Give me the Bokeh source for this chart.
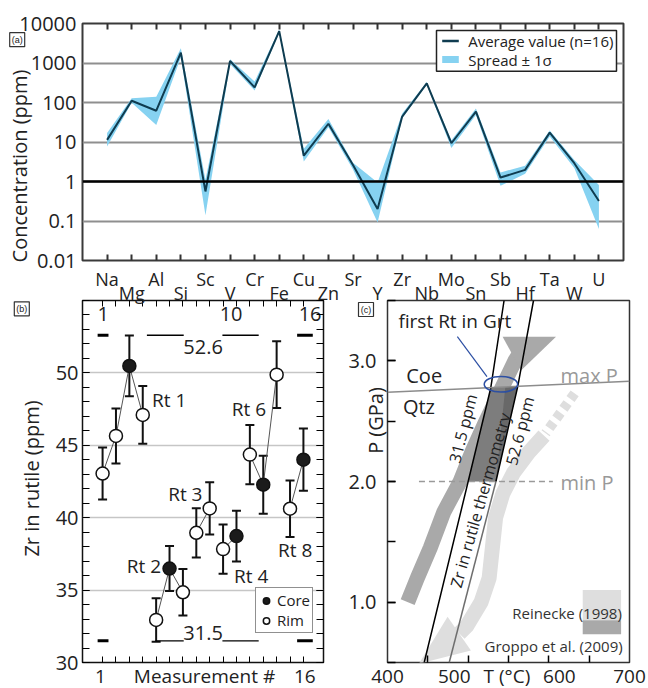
from bokeh.plotting import figure
from bokeh.models import (ColumnDataSource, FixedTicker, LinearAxis, Span, Range1d,
                          Legend, LegendItem, Whisker, TeeHead, NumeralTickFormatter,
                          GridBox, Spacer)
from bokeh.core.properties import value
from bokeh.embed import file_html
from bokeh.resources import INLINE

FONT = "Open Sans"
INK = "#222222"

# ---------------------------------------------------------------- (a) data
elements = ["Na", "Mg", "Al", "Si", "Sc", "V", "Cr", "Fe", "Cu", "Zn", "Sr",
            "Y", "Zr", "Nb", "Mo", "Sn", "Sb", "Hf", "Ta", "W", "U"]
avg_ppm = [11.3, 111, 62, 1820, 0.56, 1120, 242, 6400, 4.5, 29, 2.6,
           0.2, 44, 305, 9.3, 59, 1.26, 1.97, 17.3, 2.9, 0.32]
upper_ppm = [17, 128, 140, 2350, 1.1, 1250, 340, 7000, 6.7, 38, 3.0,
             0.95, 53, 330, 11, 71, 1.7, 2.5, 19.5, 3.5, 0.82]
lower_ppm = [7.7, 98, 27, 1390, 0.14, 950, 200, 5900, 3.2, 23.5, 2.0,
             0.092, 40, 280, 7.0, 48, 0.78, 1.56, 13.7, 2.2, 0.063]
conc_ticks = [0.01, 0.1, 1, 10, 100, 1000, 10000]
conc_tick_labels = ["0.01", "0.1", "1", "10", "100", "1000", "10000"]

# ---------------------------------------------------------------- (b) data
measurement = list(range(1, 17))
zr_ppm = [43.05, 45.65, 50.48, 47.1, 32.94, 36.49, 34.85, 38.96,
          40.64, 37.83, 38.73, 44.36, 42.28, 49.88, 40.62, 44.01]
zr_err = [1.8, 1.9, 2.1, 2.0, 1.5, 1.55, 1.6, 1.7,
          1.8, 1.7, 1.75, 2.05, 2.0, 2.3, 1.95, 2.15]
spot = ["Rim", "Rim", "Core", "Rim", "Rim", "Core", "Rim", "Rim",
        "Rim", "Rim", "Core", "Rim", "Core", "Rim", "Rim", "Core"]
grains = [[1, 2, 3, 4], [5, 6, 7], [8, 9], [10, 11], [12, 13, 14], [15, 16]]
grain_names = ["Rt 1", "Rt 2", "Rt 3", "Rt 4", "Rt 6", "Rt 8"]
zr_max, zr_min = 52.6, 31.5

# ---------------------------------------------------------------- (c) data
iso_lo_T = [445.5, 500.0, 528.0, 544.5]          # 31.5 ppm isopleth
iso_lo_P = [0.5, 2.0, 2.775, 3.5]
iso_hi_T = [476.5, 534.4, 561.5, 581.0]          # 52.6 ppm isopleth
iso_hi_P = [0.5, 2.0, 2.788, 3.5]
coe_qtz_T = [400, 700]
coe_qtz_P = [2.74, 2.83]
min_P = 2.0
groppo_T = [425, 437, 453, 470, 490, 505, 522, 540, 558, 572]
groppo_P = [1.0, 1.2, 1.45, 1.75, 2.0, 2.25, 2.5, 2.75, 3.0, 3.15]
groppo_head_T = [542.7, 608.9, 565.5]
groppo_head_P = [3.2, 3.2, 2.92]
reinecke_T = [594, 575, 556, 543, 534, 530, 526, 516, 498, 489]
reinecke_P = [2.38, 2.24, 2.07, 1.9, 1.7, 1.45, 1.2, 1.0, 0.8, 0.74]
reinecke_dash_T = [632, 596]
reinecke_dash_P = [2.73, 2.40]
reinecke_head_T = [474.5, 503.4, 439.0]
reinecke_head_P = [0.88, 0.60, 0.49]
first_rt_T, first_rt_P = 540.6, 2.806

LINE = "#0f3c50"
SPREAD = "#86d2f1"
LIGHT = "#dedede"
MEDIUM = "#a9a9a9"

# frame geometry of the three panels (page pixels)
A_L, A_R, A_T, A_B = 82, 623, 23, 260
B_L, B_R = 82, 323
C_L, C_R = 387, 629
ROW_T, ROW_B = 300, 662
A_W, B_W, C_W = 643, 345, 303


def hide_labels(axis, ticks):
    axis.major_label_overrides = {t: "" for t in ticks}
    axis.axis_line_color = None


# ================================================================ panel (a)
pa = figure(width=A_W, height=290, y_axis_type="log", x_range=(0, 22),
            y_range=(0.01, 10000), output_backend="svg", toolbar_location=None,
            min_border_left=A_L, min_border_right=A_W - A_R, min_border_top=A_T,
            min_border_bottom=290 - A_B)
pa.outline_line_color = "#3a3a3a"
pa.outline_line_width = 2
pos = list(range(1, len(elements) + 1))

xa = pa.xaxis[0]
xa.ticker = FixedTicker(ticks=pos)
hide_labels(xa, pos)
xa.major_tick_in, xa.major_tick_out = 6, 0
xa.major_tick_line_width = 2
xa.major_tick_line_color = "#333333"
top_a = LinearAxis(ticker=FixedTicker(ticks=pos), major_tick_in=6, major_tick_out=0,
                   major_tick_line_width=2, major_tick_line_color="#333333")
hide_labels(top_a, pos)
pa.add_layout(top_a, "above")

ya = pa.yaxis[0]
ya.ticker = FixedTicker(ticks=conc_ticks)
ya.major_label_overrides = dict(zip(conc_ticks, conc_tick_labels))
ya.major_tick_in = ya.major_tick_out = 0
ya.minor_tick_in = ya.minor_tick_out = 0
ya.axis_line_color = None
ya.major_label_standoff = 6
ya.major_label_text_font = FONT
ya.major_label_text_font_size = "20px"
ya.major_label_text_color = INK
pa.xgrid.visible = False
pa.ygrid.ticker = FixedTicker(ticks=conc_ticks)
pa.ygrid.grid_line_color = "#8f8f8f"
pa.ygrid.grid_line_width = 2
pa.add_layout(Span(location=1, dimension="width", line_color="black", line_width=2.5))

band = pa.varea(x=pos, y1=lower_ppm, y2=upper_ppm, fill_color=SPREAD)
mean_line = pa.line(pos, avg_ppm, line_color=LINE, line_width=2)

# ================================================================ panel (b)
pb = figure(width=B_W, height=398, x_range=(-0.5, 17.5), y_range=(30, 55),
            output_backend="svg", toolbar_location=None,
            min_border_left=B_L, min_border_right=B_W - B_R,
            min_border_top=ROW_T - 290, min_border_bottom=688 - ROW_B)
pb.outline_line_color = "#111111"
pb.outline_line_width = 1.5
zr_major = [30, 35, 40, 45, 50]
zr_minor = list(range(30, 56))

xb = pb.xaxis[0]
xb.ticker = FixedTicker(ticks=measurement)
hide_labels(xb, measurement)
xb.major_tick_in, xb.major_tick_out = 6, 0
top_b = LinearAxis(ticker=FixedTicker(ticks=measurement), major_tick_in=6,
                   major_tick_out=0)
hide_labels(top_b, measurement)
pb.add_layout(top_b, "above")

yb = pb.yaxis[0]
yb.ticker = FixedTicker(ticks=zr_major, minor_ticks=zr_minor)
yb.major_tick_in, yb.major_tick_out = 7, 0
yb.minor_tick_in, yb.minor_tick_out = 7, 0
yb.major_tick_line_width = yb.minor_tick_line_width = 1.2
yb.axis_line_color = None
yb.major_label_standoff = 4
yb.major_label_text_font = FONT
yb.major_label_text_font_size = "20px"
yb.major_label_text_color = INK
right_b = LinearAxis(ticker=FixedTicker(ticks=zr_major, minor_ticks=zr_minor),
                     major_tick_in=7, major_tick_out=0, minor_tick_in=7,
                     minor_tick_out=0, major_tick_line_width=1.2,
                     minor_tick_line_width=1.2)
hide_labels(right_b, zr_major)
pb.add_layout(right_b, "right")
pb.xgrid.visible = False
pb.ygrid.ticker = FixedTicker(ticks=zr_major[1:])
pb.ygrid.grid_line_color = "#c6c6c6"
pb.ygrid.grid_line_width = 1.5

# bounds of the Zr range: short heavy ends and lighter middle strokes
for level, inner_start in [(zr_max, 4.31), (zr_min, 4.95)]:
    pb.segment(x0=[0.63, 15.53], y0=[level] * 2, x1=[1.44, 16.7], y1=[level] * 2,
               line_color="black", line_width=3)
    pb.segment(x0=[inner_start, 9.95], y0=[level] * 2, x1=[7.06, 12.66],
               y1=[level] * 2, line_color="black", line_width=1.3)
pb.text(x=[8.51, 8.51], y=[zr_max - 0.84, zr_min + 0.57],
        text=[f"{zr_max:.1f}", f"{zr_min:.1f}"], text_font=value(FONT),
        text_font_size="20px", text_align="center", text_baseline="middle",
        text_color=INK)

pb.multi_line(xs=[g for g in grains],
              ys=[[zr_ppm[m - 1] for m in g] for g in grains],
              line_color="#555555", line_width=1)
err_src = ColumnDataSource(dict(base=measurement,
                                lower=[v - e for v, e in zip(zr_ppm, zr_err)],
                                upper=[v + e for v, e in zip(zr_ppm, zr_err)]))
pb.add_layout(Whisker(source=err_src, base="base", lower="lower", upper="upper",
                      line_color="#111111", line_width=2,
                      lower_head=TeeHead(size=9, line_width=2, line_color="#111111"),
                      upper_head=TeeHead(size=9, line_width=2, line_color="#111111")))
core_src = ColumnDataSource(dict(x=[m for m, s in zip(measurement, spot) if s == "Core"],
                                 y=[v for v, s in zip(zr_ppm, spot) if s == "Core"]))
rim_src = ColumnDataSource(dict(x=[m for m, s in zip(measurement, spot) if s == "Rim"],
                                y=[v for v, s in zip(zr_ppm, spot) if s == "Rim"]))
core_r = pb.scatter("x", "y", source=core_src, size=13, fill_color="#1b1b1b",
                    line_color="#111111", line_width=1.5)
rim_r = pb.scatter("x", "y", source=rim_src, size=13, fill_color="white",
                   line_color="#111111", line_width=1.5)

grain_x = [5.97, 4.09, 7.18, 12.1, 11.93, 15.38]
grain_y = [48.12, 36.63, 41.66, 35.96, 47.48, 37.8]
pb.text(x=grain_x, y=grain_y, text=grain_names, text_font=value(FONT),
        text_font_size="19px", text_align="center", text_baseline="middle",
        text_color=INK)
pb.text(x=[1.05, 10.6, 16.5], y=[54.1] * 3, text=["1", "10", "16"],
        text_font=value(FONT), text_font_size="20px", text_align="center",
        text_baseline="middle", text_color=INK)

leg_b = Legend(items=[LegendItem(label="Core", renderers=[core_r]),
                      LegendItem(label="Rim", renderers=[rim_r])],
               location=(173, 29), margin=0, padding=2, spacing=0,
               glyph_width=16, glyph_height=17, label_height=17, label_standoff=3,
               label_text_font=FONT, label_text_font_size="15px",
               label_text_color=INK, border_line_color="#222222",
               border_line_width=1.5, background_fill_color="white",
               background_fill_alpha=1)
pb.add_layout(leg_b)

# ================================================================ panel (c)
pc = figure(width=C_W, height=398, x_range=(400, 700), y_range=(0.5, 3.5),
            output_backend="svg", toolbar_location=None,
            min_border_left=C_L - B_W, min_border_right=648 - C_R,
            min_border_top=ROW_T - 290, min_border_bottom=688 - ROW_B)
pc.outline_line_color = "#333333"
pc.outline_line_width = 1.5
pc.xgrid.visible = False
pc.ygrid.visible = False
t_ticks = [450, 500, 550, 600, 650]
xc = pc.xaxis[0]
xc.ticker = FixedTicker(ticks=t_ticks)
hide_labels(xc, t_ticks)
xc.major_tick_in, xc.major_tick_out = 7, 0
xc.major_tick_line_width = 1.5
yc = pc.yaxis[0]
yc.ticker = FixedTicker(ticks=[1, 2, 3], minor_ticks=[0.5, 1, 1.5, 2, 2.5, 3, 3.5])
yc.formatter = NumeralTickFormatter(format="0.0")
yc.major_tick_in, yc.major_tick_out = 8, 0
yc.minor_tick_in, yc.minor_tick_out = 8, 0
yc.major_tick_line_width = yc.minor_tick_line_width = 1.5
yc.axis_line_color = None
yc.major_label_standoff = 11
yc.major_label_text_font = FONT
yc.major_label_text_font_size = "20px"
yc.major_label_text_color = INK

# P-T paths
pc.line(reinecke_dash_T, reinecke_dash_P, line_color=LIGHT, line_width=10,
        line_dash="7 5")
pc.line(reinecke_T, reinecke_P, line_color=LIGHT, line_width=15,
        line_join="round")
pc.patch(reinecke_head_T, reinecke_head_P, fill_color=LIGHT, line_color=None)
pc.line(groppo_T, groppo_P, line_color=MEDIUM, line_width=15, line_join="round")
pc.patch(groppo_head_T, groppo_head_P, fill_color=MEDIUM, line_color=None)

# Zr-in-rutile window between min P and the coesite-in reaction
win_T = [iso_lo_T[1], iso_lo_T[2], iso_hi_T[2], iso_hi_T[1]]
win_P = [iso_lo_P[1], iso_lo_P[2], iso_hi_P[2], iso_hi_P[1]]
pc.patch(win_T, win_P, fill_color="#7d7d7d", line_color=None)
pc.patch([546.0, iso_hi_T[2], iso_hi_T[1]], [2.78, iso_hi_P[2], iso_hi_P[1]],
         fill_color="#686868", line_color=None)

pc.line(iso_lo_T, iso_lo_P, line_color="black", line_width=1.5)
pc.line(iso_hi_T[:2], iso_hi_P[:2], line_color="#6e6e6e", line_width=1.5)
pc.line(iso_hi_T[1:], iso_hi_P[1:], line_color="black", line_width=1.5)
pc.line(coe_qtz_T, coe_qtz_P, line_color="#8c8c8c", line_width=1.5)
pc.line([439, 605], [min_P, min_P], line_color="#9a9a9a", line_width=1.5,
        line_dash="6 4")

pc.ellipse(x=[first_rt_T], y=[first_rt_P], width=41.4, height=0.13,
           fill_color=None, line_color="#2c4fa3", line_width=1.5)
pc.line([486.6, 523.3], [3.2, 2.87], line_color="#2c4fa3", line_width=1.2)

pc.text(x=[483.5], y=[3.33], text=["first Rt in Grt"], text_font=value(FONT),
        text_font_size="19px", text_align="center", text_baseline="middle",
        text_color=INK)
pc.text(x=[445.5, 439], y=[2.875, 2.62], text=["Coe", "Qtz"], text_font=value(FONT),
        text_font_size="20px", text_align="center", text_baseline="middle",
        text_color=INK)
pc.text(x=[650, 647.4], y=[2.88, 1.99], text=["max P", "min P"],
        text_font=value(FONT), text_font_size="20px", text_align="center",
        text_baseline="middle", text_color="#999999")
pc.text(x=[493.5, 564], y=[2.44, 2.42], text=["31.5 ppm", "52.6 ppm"],
        angle=75.5, angle_units="deg", text_font=value(FONT), text_font_size="16px",
        text_align="center", text_baseline="middle", text_color=INK)
pc.text(x=[515], y=[1.845], text=["Zr in rutile thermometry"], angle=74,
        angle_units="deg", text_font=value(FONT), text_font_size="16px",
        text_align="center", text_baseline="middle", text_color=INK)

# key
pc.quad(left=[642, 642], right=[689.6, 689.6], bottom=[0.85, 0.735], top=[1.10, 0.85],
        fill_color=[LIGHT, MEDIUM], line_color=None)
pc.text(x=[690.5, 691.5], y=[0.907, 0.64], text=["Reinecke (1998)", "Groppo et al. (2009)"],
        text_font=value(FONT), text_font_size="15px", text_align="right",
        text_baseline="middle", text_color="#333333")

# ================================================================ margin texts
# a transparent sheet over the whole page, in page pixels (y down), carries
# the texts that sit outside the three plot frames and the key of panel (a)
sheet = figure(width=648, height=688, x_range=Range1d(0, 648), y_range=Range1d(688, 0),
               min_border=0, x_axis_location=None, y_axis_location=None,
               toolbar_location=None, output_backend="svg")
sheet.grid.visible = False
sheet.outline_line_color = None
sheet.background_fill_alpha = 0
sheet.border_fill_alpha = 0


def sheet_text(x, y, txt, size="20px", angle=0, align="center", baseline="middle",
               font=FONT, color=INK):
    sheet.text(x=[x], y=[y], text=[txt], angle=angle, angle_units="deg",
               text_font=value(font), text_font_size=size, text_align=align,
               text_baseline=baseline, text_color=color)


def panel_tag(x, y, txt):
    sheet.rect(x=[x], y=[y], width=15, height=14, fill_color="white",
               line_color="#333333", line_width=1.2)
    sheet_text(x, y + 0.5, txt, size="9px", font="Liberation Sans")


# key of panel (a)
sheet.rect(x=[526], y=[50.4], width=180, height=40.7, fill_color="white",
           line_color="#222222", line_width=1.5)
sheet.line([441.7, 458.3], [40.5, 40.5], line_color=LINE, line_width=2.5)
sheet.quad(left=[441.7], right=[458.3], top=[55.5], bottom=[62.5],
           fill_color=SPREAD, line_color=None)
sheet_text(467.7, 40.5, "Average value (n=16)", size="15px", align="left")
sheet_text(467.7, 59, "Spread ± 1σ", size="15px", align="left")

# element names, staggered in two rows under panel (a)
a_scale = (A_R - A_L) / 22
for i, el in enumerate(elements):
    sheet_text(A_L + pos[i] * a_scale, 278.5 if i % 2 == 0 else 292.5, el,
               size="18px", baseline="alphabetic")
sheet_text(18.8, 165.5, "Concentration (ppm)", angle=90)
panel_tag(16.7, 39.2, "(a)")

sheet_text(31, 478, "Zr in rutile (ppm)", angle=90)
panel_tag(21.3, 308.3, "(b)")
for xpx, txt in [(100, "1"), (204, "Measurement #"), (304.3, "16")]:
    sheet_text(xpx, 675.5, txt, size="19px")

c_scale = (C_R - C_L) / 300
for tc, txt in [(400, "400"), (482.7, "500"), (548, "T (°C)"), (613, "600"), (700, "700")]:
    sheet_text(C_L + (tc - 400) * c_scale, 675.5, txt, size="19px")
sheet_text(375, 420, "P (GPa)", angle=90)
panel_tag(365.5, 309, "(c)")

# grid: empty outer tracks keep the sheet's edges apart from the panels' edges
p = GridBox(children=[(Spacer(width=0, height=0), 0, 0),
                      (Spacer(width=C_W - (A_W - B_W), height=0), 0, 3),
                      (Spacer(width=0, height=0), 3, 4),
                      (pa, 1, 1, 1, 2),
                      (pb, 2, 1),
                      (pc, 2, 2, 1, 2),
                      (sheet, 0, 0, 4, 5)], spacing=0)
open("out.html", "w").write(file_html(p, INLINE))
